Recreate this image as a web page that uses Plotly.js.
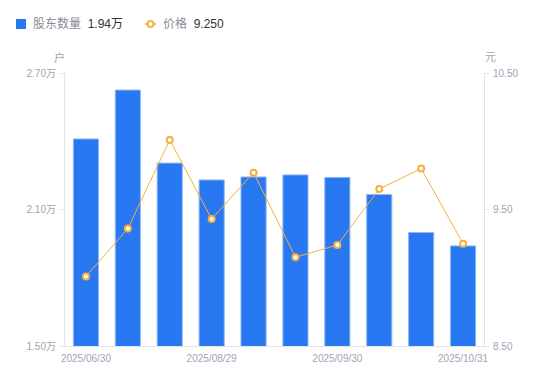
<!DOCTYPE html>
<html>
<head>
<meta charset="utf-8">
<script src="https://cdn.plot.ly/plotly-3.0.1.min.js"></script>
<style>html,body{margin:0;padding:0;background:#fff;}#chart{width:550px;height:381px;}</style>
</head>
<body>
<div id="chart"></div>
<script>
// Data
const dates = ["2025/06/30","2025/07/10","2025/07/31","2025/08/29","2025/09/10","2025/09/19","2025/09/30","2025/10/10","2025/10/20","2025/10/31"];
const holders = [2.41, 2.625, 2.304, 2.23, 2.243, 2.252, 2.241, 2.166, 1.999, 1.94]; // 万户
const prices = [9.01, 9.36, 10.01, 9.43, 9.77, 9.15, 9.24, 9.65, 9.80, 9.25];
const xTickShown = ["2025/06/30","2025/08/29","2025/09/30","2025/10/31"];
const leftTicks = [1.5, 2.1, 2.7];
const leftTickText = ["1.50万","2.10万","2.70万"];
const rightTicks = [8.5, 9.5, 10.5];
const rightTickText = ["8.50","9.50","10.50"];
const legendHolderValue = "1.94万";
const legendPriceValue = "9.250";

const W = 550, H = 381;
const M = {l: 65, r: 66, t: 73, b: 35};
const pw = W - M.l - M.r, ph = H - M.t - M.b;
const px = x => (x - M.l) / pw;
const py = y => (H - M.b - y) / ph;

const FONT = "Liberation Sans, Arial, Noto Sans CJK SC, sans-serif";
const TICK = "#a2a4b4";
const AXIS = "#e3e4e8";
const BLUE = "#2878f2";
const ORANGE = "#f6b03e";

const traces = [
  {
    type: "bar", x: dates, y: holders, yaxis: "y", name: "股东数量",
    marker: {color: BLUE, line: {color: "#8db8f7", width: 1}},
    hoverinfo: "skip"
  },
  {
    type: "scatter", mode: "lines+markers", x: dates, y: prices, yaxis: "y2", name: "价格",
    line: {color: ORANGE, width: 1},
    marker: {color: "#ffffff", size: 6, line: {color: ORANGE, width: 2}},
    hoverinfo: "skip"
  }
];

const layout = {
  width: W, height: H,
  margin: M,
  paper_bgcolor: "#fff", plot_bgcolor: "#fff",
  showlegend: false,
  bargap: 0.4,
  font: {family: FONT, size: 10, color: TICK},
  xaxis: {
    type: "category", range: [-0.5, dates.length - 0.5], tickmode: "array", tickvals: xTickShown, ticktext: xTickShown,
    showgrid: false, zeroline: false, showline: true, linecolor: AXIS, linewidth: 1,
    ticks: "", ticklabelstandoff: 3, tickfont: {size: 10, color: TICK}, fixedrange: true
  },
  yaxis: {
    range: [1.5, 2.7], tickmode: "array", tickvals: leftTicks, ticktext: leftTickText,
    showgrid: false, zeroline: false, showline: true, linecolor: AXIS, linewidth: 1,
    ticks: "outside", ticklen: 4, tickcolor: AXIS, ticklabelstandoff: 2, tickfont: {size: 10, color: TICK}
  },
  yaxis2: {
    range: [8.5, 10.5], overlaying: "y", side: "right",
    tickmode: "array", tickvals: rightTicks, ticktext: rightTickText,
    showgrid: false, zeroline: false, showline: true, linecolor: AXIS, linewidth: 1,
    ticks: "outside", ticklen: 4, tickcolor: AXIS, ticklabelstandoff: 2, tickfont: {size: 10, color: TICK}
  },
  shapes: [
    {type: "rect", xref: "paper", yref: "paper", x0: px(16), x1: px(26), y0: py(29), y1: py(19),
     fillcolor: BLUE, line: {width: 0}},
    {type: "line", xref: "paper", yref: "paper", x0: px(145), x1: px(156), y0: py(24), y1: py(24),
     line: {color: ORANGE, width: 2}},
    {type: "circle", xref: "paper", yref: "paper", x0: px(147.5), x1: px(153.5), y0: py(27), y1: py(21),
     fillcolor: "#fff", line: {color: ORANGE, width: 2}}
  ],
  annotations: [
    {xref: "paper", yref: "paper", x: px(31), y: py(24), xanchor: "left", yanchor: "middle", showarrow: false,
     text: "股东数量  <span style='color:#333'>" + legendHolderValue + "</span>",
     font: {size: 12, color: "#8a8c99", family: FONT}},
    {xref: "paper", yref: "paper", x: px(161), y: py(24), xanchor: "left", yanchor: "middle", showarrow: false,
     text: "价格  <span style='color:#333'>" + legendPriceValue + "</span>",
     font: {size: 12, color: "#8a8c99", family: FONT}},
    {xref: "paper", yref: "paper", x: px(59), y: py(57), xanchor: "center", yanchor: "middle", showarrow: false,
     text: "户", font: {size: 11, color: TICK, family: FONT}},
    {xref: "paper", yref: "paper", x: px(490), y: py(57), xanchor: "center", yanchor: "middle", showarrow: false,
     text: "元", font: {size: 11, color: TICK, family: FONT}}
  ]
};

Plotly.newPlot("chart", traces, layout, {staticPlot: true, displayModeBar: false});
</script>
</body>
</html>
